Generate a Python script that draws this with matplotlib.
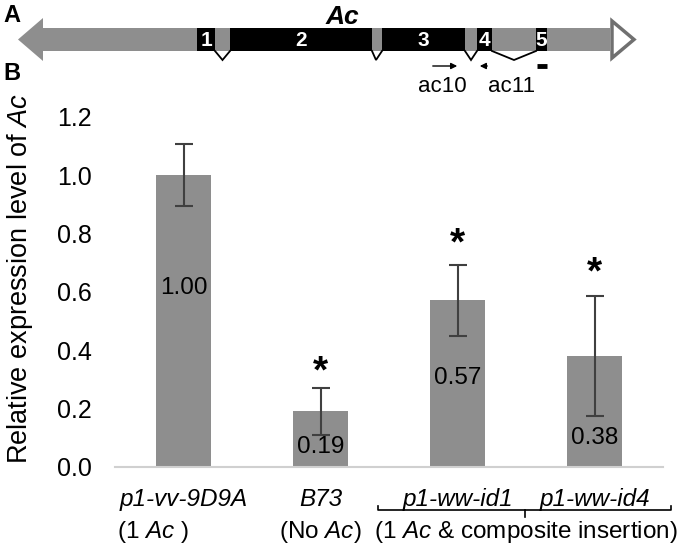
import matplotlib
matplotlib.use("Agg")
import matplotlib.pyplot as plt
from matplotlib.patches import Rectangle, Polygon
from matplotlib.transforms import offset_copy

plt.rcParams['font.family'] = ['Liberation Sans', 'DejaVu Sans']
plt.rcParams['mathtext.fontset'] = 'custom'
plt.rcParams['mathtext.rm'] = 'Liberation Sans'
plt.rcParams['mathtext.it'] = 'Liberation Sans:italic'
plt.rcParams['mathtext.bf'] = 'Liberation Sans:bold'

# ---------------- data ----------------
categories = ['p1-vv-9D9A', 'B73', 'p1-ww-id1', 'p1-ww-id4']
values = [1.00, 0.19, 0.57, 0.38]
errors = [0.105, 0.08, 0.123, 0.206]
value_labels = ['1.00', '0.19', '0.57', '0.38']
label_y = [0.612, 0.068, 0.304, 0.098]
star_y = [None, 0.338, 0.777, 0.676]
yticks = [0.0, 0.2, 0.4, 0.6, 0.8, 1.0, 1.2]
group_labels = [r'(1 $\mathit{Ac}$ )', r'(No $\mathit{Ac}$)', r'(1 $\mathit{Ac}$ & composite insertion)']
group_x = [-0.22, 1.0, 2.5]

# gene diagram (panel A), diagram units
shaft = (43, 610)
exons = [(197, 215), (230, 372), (382, 465), (477, 492), (536, 547)]
exon_names = ['1', '2', '3', '4', '5']
introns = [(215, 222.5, 230), (372, 376, 382), (465, 471, 477), (492, 514, 536)]
primers = {'ac10': (430, 460), 'ac11': (490, 477)}
probe = (537, 547)

W, H = 677, 546
fig = plt.figure(figsize=(W / 100, H / 100), dpi=100)

# ---------------- panel A ----------------
axA = fig.add_axes([0, 1 - 100 / H, 1, 100 / H])
axA.set_xlim(0, W)
axA.set_ylim(100, 0)
axA.axis('off')
gray = '#8e8e8e'
ytop, ybot = 28, 51
axA.add_patch(Rectangle((shaft[0], ytop), shaft[1] - shaft[0], ybot - ytop, color=gray, lw=0))
axA.add_patch(Polygon([(18, 39.5), (shaft[0], 18), (shaft[0], 61)], closed=True, color=gray, lw=0))
axA.add_patch(Polygon([(shaft[1] + 2, 21), (634, 39.5), (shaft[1] + 2, 58)], closed=True,
                      facecolor='white', edgecolor='#707070', lw=2.5))
for (a, b), nm in zip(exons, exon_names):
    axA.add_patch(Rectangle((a, ytop), b - a, ybot - ytop, color='black', lw=0))
    axA.text((a + b) / 2, (ytop + ybot) / 2 + 1, nm, color='white', fontsize=15, fontweight='bold',
             ha='center', va='center', family=['Liberation Sans Narrow', 'Liberation Sans'])
for a, m, b in introns:
    axA.plot([a, m, b], [ybot, 60, ybot], color='black', lw=1.3, solid_joinstyle='miter')
for name, (x0, x1) in primers.items():
    axA.annotate('', xy=(x1, 66), xytext=(x0, 66),
                 arrowprops=dict(arrowstyle='-|>', color='black', lw=1.0, mutation_scale=9))
axA.plot(probe, [66, 66], color='black', lw=3.5, solid_capstyle='butt')
axA.text(442, 86, 'ac10', fontsize=16, ha='center', va='center')
axA.text(512, 86, 'ac11', fontsize=16, ha='center', va='center')
axA.text(342, 17, 'Ac', fontsize=19, fontweight='bold', style='italic', ha='center', va='center')
axA.text(3, 16, 'A', fontsize=17, fontweight='bold', ha='left', va='center')
axA.text(3, 74, 'B', fontsize=17, fontweight='bold', ha='left', va='center')

# ---------------- panel B ----------------
ax = fig.add_axes([115 / W, (H - 466.7) / H, 548 / W, 350 / H])
x = list(range(len(categories)))
ax.bar(x, values, width=0.395, color=gray, zorder=2)
ax.errorbar(x, values, yerr=errors, fmt='none', ecolor='#404040', elinewidth=1.5,
            capsize=6.5, capthick=1.5, zorder=3)
for xi, lab, ly in zip(x, value_labels, label_y):
    ax.text(xi, ly, lab, ha='center', va='center', fontsize=17.5, zorder=4)
star_fs = 28
star_tr = offset_copy(ax.transData, fig=fig, y=-0.37 * star_fs, units='points')
for xi, sy in zip(x, star_y):
    if sy is not None:
        ax.text(xi, sy, '*', ha='center', va='baseline', fontsize=star_fs, fontweight='bold',
                transform=star_tr, clip_on=False)
ax.set_xlim(-0.5, 3.5)
ax.set_ylim(0, 1.2)
ax.set_yticks(yticks)
ax.set_yticklabels([f'{t:.1f}' for t in yticks], fontsize=18)
ax.tick_params(axis='y', length=0, pad=17)
ax.set_xticks([])
for sp in ['left', 'right', 'top']:
    ax.spines[sp].set_visible(False)
ax.spines['bottom'].set_color('#d0d0d0')
ax.spines['bottom'].set_linewidth(1.5)

tr = ax.get_xaxis_transform()
for xi, c in zip(x, categories):
    ax.text(xi, -0.095, c, style='italic', fontsize=17.5, ha='center', va='center',
            transform=tr, clip_on=False)
for gx, g in zip(group_x, group_labels):
    ax.text(gx, -0.187, g, fontsize=17.5, ha='center', va='center', transform=tr, clip_on=False)
# bracket under p1-ww-id1 / p1-ww-id4
by = -0.124
ax.plot([1.42, 1.42, 3.56, 3.56], [by + 0.012, by, by, by + 0.012], color='black', lw=1.2,
        transform=tr, clip_on=False)
ax.plot([2.49, 2.49], [by, by - 0.02], color='black', lw=1.2, transform=tr, clip_on=False)

fig.text(20 / W, 1 - 278 / H, r'Relative expression level of $\mathit{Ac}$', rotation=90,
         fontsize=19.5, ha='center', va='center')

fig.savefig('out.png', dpi=100)
